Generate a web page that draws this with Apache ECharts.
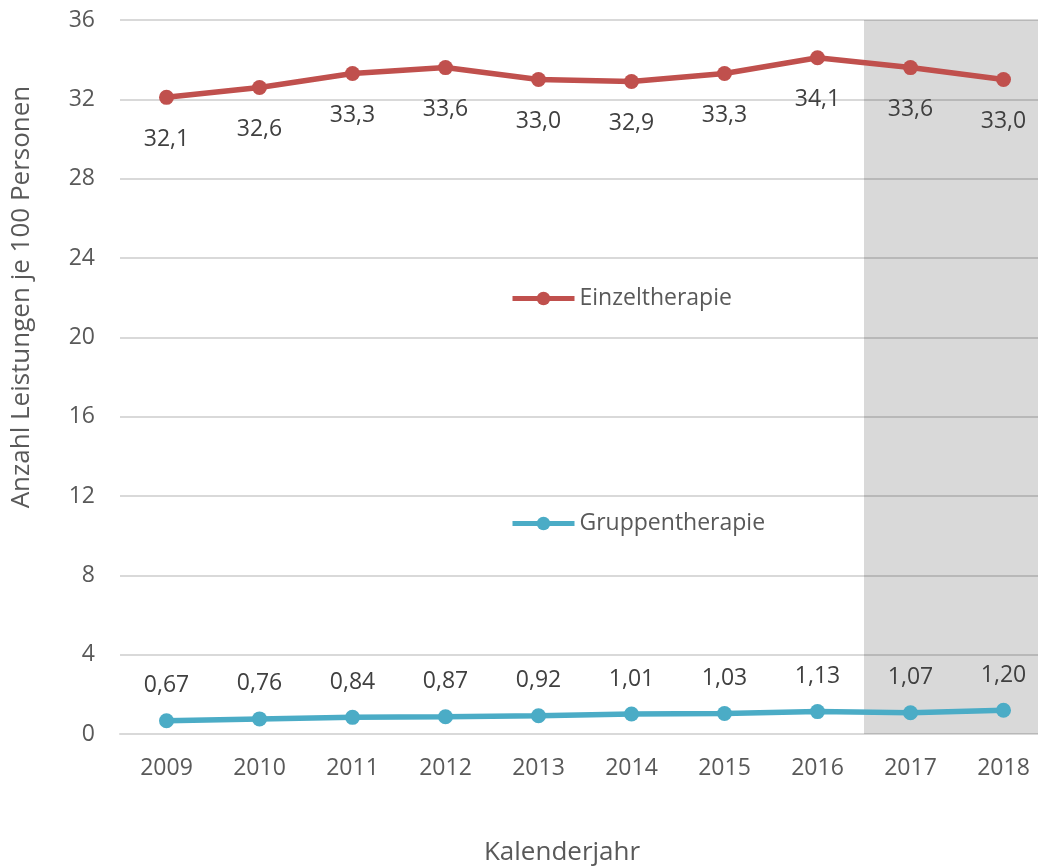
<!DOCTYPE html>
<html>
<head>
<meta charset="utf-8">
<script src="https://cdn.jsdelivr.net/npm/echarts@6/dist/echarts.min.js"></script>
<style>
  html, body { margin: 0; padding: 0; background: #fff; }
  #chart { width: 1038px; height: 868px; }
</style>
</head>
<body>
<div id="chart"></div>
<script>
// Daten
var years = ['2009', '2010', '2011', '2012', '2013', '2014', '2015', '2016', '2017', '2018']
var einzel = [32.1, 32.6, 33.3, 33.6, 33.0, 32.9, 33.3, 34.1, 33.6, 33.0]
var gruppe = [0.67, 0.76, 0.84, 0.87, 0.92, 1.01, 1.03, 1.13, 1.07, 1.20]
var einzelDigits = 1
var gruppeDigits = 2
var shadedYears = ['2017', '2018']
var yTicks = { min: 0, max: 36, step: 4 }

var font = '"Open Sans", sans-serif'

function fmt(v, d) {
  return v.toFixed(d).replace('.', ',')
}

// Bandgrenzen der grau hinterlegten Jahre (halbe Kategorie links/rechts)
var shadeFrom = years.indexOf(shadedYears[0]) - 0.5
var shadeTo = years.indexOf(shadedYears[shadedYears.length - 1]) + 0.5

var chart = echarts.init(document.getElementById('chart'))

chart.setOption({
  animation: false,
  textStyle: { fontFamily: font },
  grid: {
    left: 120,
    top: 20,
    width: 930,
    height: 714,
    containLabel: false,
    outerBoundsMode: 'none'
  },
  legend: {
    orient: 'vertical',
    left: 505,
    top: 282,
    itemWidth: 62,
    itemHeight: 17,
    itemGap: 202,
    lineStyle: { width: 5 },
    textStyle: { fontSize: 23, color: '#595959', fontFamily: font },
    data: ['Einzeltherapie', 'Gruppentherapie']
  },
  xAxis: [
    {
      type: 'category',
      data: years,
      boundaryGap: true,
      axisLine: { show: true, lineStyle: { color: '#d9d9d9', width: 2 } },
      axisTick: { show: false },
      axisLabel: { fontSize: 23, color: '#595959', margin: 23 }
    },
    {
      // unsichtbare Hilfsachse fuer die Schattierung ueber ganze Baender
      type: 'value',
      show: false,
      min: -0.5,
      max: years.length - 0.5
    }
  ],
  yAxis: {
    type: 'value',
    min: yTicks.min,
    max: yTicks.max,
    interval: yTicks.step,
    axisLine: { show: false },
    axisTick: { show: false },
    axisLabel: { fontSize: 23, color: '#595959', margin: 25 },
    splitLine: { lineStyle: { color: '#d9d9d9', width: 2 } }
  },
  graphic: [
    {
      type: 'text',
      x: 562,
      y: 853,
      style: {
        text: 'Kalenderjahr',
        font: '26px ' + font,
        fill: '#595959',
        textAlign: 'center',
        textVerticalAlign: 'middle'
      }
    },
    {
      type: 'text',
      x: 22,
      y: 297,
      rotation: Math.PI / 2,
      style: {
        text: 'Anzahl Leistungen je 100 Personen',
        font: '26px ' + font,
        fill: '#595959',
        textAlign: 'center',
        textVerticalAlign: 'middle'
      }
    }
  ],
  series: [
    {
      name: 'shade',
      type: 'line',
      xAxisIndex: 1,
      data: [],
      silent: true,
      markArea: {
        silent: true,
        itemStyle: { color: 'rgba(0,0,0,0.15)' },
        data: [[
          { xAxis: shadeFrom, yAxis: yTicks.min },
          { xAxis: shadeTo, yAxis: yTicks.max }
        ]]
      },
      z: 1
    },
    {
      name: 'Einzeltherapie',
      type: 'line',
      data: einzel,
      symbol: 'circle',
      symbolSize: 15,
      lineStyle: { color: '#C0504D', width: 5.5 },
      itemStyle: { color: '#C0504D' },
      label: {
        show: true,
        position: 'bottom',
        distance: 23,
        fontSize: 23,
        color: '#404040',
        formatter: function (p) { return fmt(p.value, einzelDigits) }
      },
      z: 3
    },
    {
      name: 'Gruppentherapie',
      type: 'line',
      data: gruppe,
      symbol: 'circle',
      symbolSize: 15,
      lineStyle: { color: '#4BACC6', width: 5.5 },
      itemStyle: { color: '#4BACC6' },
      label: {
        show: true,
        position: 'top',
        distance: 16,
        fontSize: 23,
        color: '#404040',
        formatter: function (p) { return fmt(p.value, gruppeDigits) }
      },
      z: 3
    }
  ]
})
</script>
</body>
</html>
